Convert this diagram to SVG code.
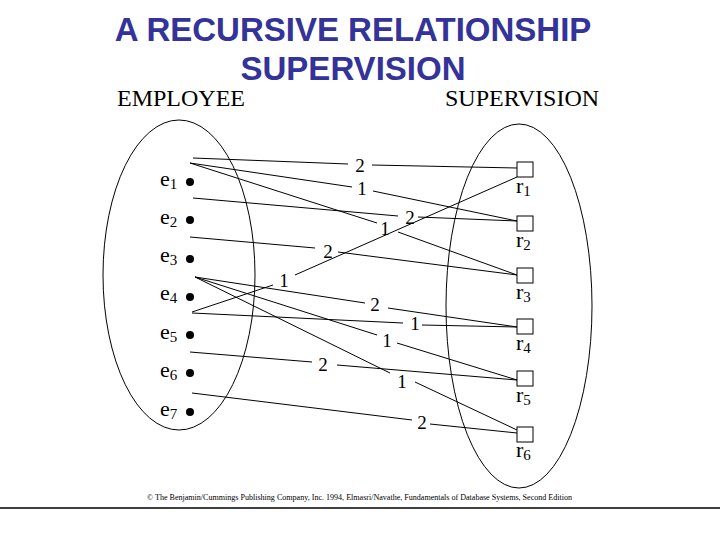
<svg xmlns="http://www.w3.org/2000/svg" width="720" height="540" viewBox="0 0 720 540">
<style>
.title{font-family:"Liberation Sans",Arial,sans-serif;font-weight:bold;font-size:33px;fill:#333399;text-anchor:middle}
.set{font-family:"Liberation Serif","Times New Roman",serif;font-size:24px;fill:#000}
.lbl{font-family:"Liberation Serif","Times New Roman",serif;font-size:22px;fill:#000}
.sub{font-size:15px}
.num{font-family:"Liberation Serif","Times New Roman",serif;font-size:19px;fill:#000;text-anchor:middle}
.copy{font-family:"Liberation Serif","Times New Roman",serif;font-size:8px;fill:#000}
.ell{fill:none;stroke:#000;stroke-width:1}
.ln{fill:none;stroke:#000;stroke-width:1}
.box{fill:#fff;stroke:#000;stroke-width:1}
</style>
<rect width="720" height="540" fill="#fff"/>
<g id="title">
<text class="title" x="353" y="41">A RECURSIVE RELATIONSHIP</text>
<text class="title" x="353" y="80">SUPERVISION</text>
</g>
<text class="set" x="117" y="106">EMPLOYEE</text>
<text class="set" x="445" y="106">SUPERVISION</text>
<ellipse id="employee-set" class="ell" cx="179" cy="275" rx="76" ry="155"/>
<ellipse id="supervision-set" class="ell" cx="519" cy="306" rx="73" ry="182"/>
<g id="connectors">
<line class="ln" x1="193" y1="158" x2="348" y2="164"/>
<line class="ln" x1="372" y1="165" x2="517" y2="168"/>
<line class="ln" x1="190" y1="163" x2="352" y2="187"/>
<line class="ln" x1="373" y1="191" x2="517" y2="221"/>
<line class="ln" x1="193" y1="198" x2="398" y2="216"/>
<line class="ln" x1="418" y1="217" x2="517" y2="221"/>
<line class="ln" x1="190" y1="163" x2="377" y2="223"/>
<line class="ln" x1="398" y1="232" x2="517" y2="275"/>
<line class="ln" x1="190" y1="237" x2="315" y2="248"/>
<line class="ln" x1="338" y1="252" x2="517" y2="275"/>
<line class="ln" x1="192" y1="312" x2="273" y2="285"/>
<line class="ln" x1="295" y1="275" x2="517" y2="177"/>
<line class="ln" x1="195" y1="277" x2="365" y2="303"/>
<line class="ln" x1="388" y1="308" x2="517" y2="327"/>
<line class="ln" x1="192" y1="313" x2="403" y2="323"/>
<line class="ln" x1="422" y1="325" x2="517" y2="327"/>
<line class="ln" x1="195" y1="277" x2="377" y2="335"/>
<line class="ln" x1="397" y1="343" x2="517" y2="380"/>
<line class="ln" x1="190" y1="352" x2="312" y2="362"/>
<line class="ln" x1="337" y1="365" x2="517" y2="380"/>
<line class="ln" x1="195" y1="277" x2="390" y2="373"/>
<line class="ln" x1="415" y1="382" x2="517" y2="430"/>
<line class="ln" x1="192" y1="393" x2="412" y2="420"/>
<line class="ln" x1="430" y1="424" x2="517" y2="433"/>
</g>
<g id="role-labels">
<text class="num" x="360" y="172">2</text>
<text class="num" x="362" y="195">1</text>
<text class="num" x="410" y="224">2</text>
<text class="num" x="385" y="235">1</text>
<text class="num" x="328" y="258">2</text>
<text class="num" x="284" y="287">1</text>
<text class="num" x="375" y="311">2</text>
<text class="num" x="415" y="330">1</text>
<text class="num" x="387" y="347">1</text>
<text class="num" x="323" y="371">2</text>
<text class="num" x="402" y="388">1</text>
<text class="num" x="422" y="429">2</text>
</g>
<g id="e1"><text class="lbl" x="160" y="186">e<tspan class="sub" dy="3">1</tspan></text><circle cx="190" cy="182" r="4"/></g>
<g id="e2"><text class="lbl" x="160" y="224">e<tspan class="sub" dy="3">2</tspan></text><circle cx="190" cy="220" r="4"/></g>
<g id="e3"><text class="lbl" x="160" y="262">e<tspan class="sub" dy="3">3</tspan></text><circle cx="190" cy="259" r="4"/></g>
<g id="e4"><text class="lbl" x="160" y="300">e<tspan class="sub" dy="3">4</tspan></text><circle cx="190" cy="297" r="4"/></g>
<g id="e5"><text class="lbl" x="160" y="339">e<tspan class="sub" dy="3">5</tspan></text><circle cx="190" cy="335" r="4"/></g>
<g id="e6"><text class="lbl" x="160" y="377">e<tspan class="sub" dy="3">6</tspan></text><circle cx="190" cy="373" r="4"/></g>
<g id="e7"><text class="lbl" x="160" y="416">e<tspan class="sub" dy="3">7</tspan></text><circle cx="190" cy="412" r="4"/></g>
<g id="r1"><rect class="box" x="517" y="162" width="16" height="15"/><text class="lbl" x="516" y="193">r<tspan class="sub" dy="3">1</tspan></text></g>
<g id="r2"><rect class="box" x="517" y="216" width="16" height="15"/><text class="lbl" x="516" y="247">r<tspan class="sub" dy="3">2</tspan></text></g>
<g id="r3"><rect class="box" x="517" y="268" width="16" height="15"/><text class="lbl" x="516" y="299">r<tspan class="sub" dy="3">3</tspan></text></g>
<g id="r4"><rect class="box" x="517" y="319" width="16" height="15"/><text class="lbl" x="516" y="350">r<tspan class="sub" dy="3">4</tspan></text></g>
<g id="r5"><rect class="box" x="517" y="371" width="16" height="15"/><text class="lbl" x="516" y="402">r<tspan class="sub" dy="3">5</tspan></text></g>
<g id="r6"><rect class="box" x="517" y="427" width="16" height="15"/><text class="lbl" x="516" y="457">r<tspan class="sub" dy="3">6</tspan></text></g>
<text class="copy" x="147" y="500" textLength="425" lengthAdjust="spacingAndGlyphs">© The Benjamin/Cummings Publishing Company, Inc. 1994, Elmasri/Navathe, Fundamentals of Database Systems, Second Edition</text>
<line x1="0" y1="508" x2="720" y2="508" stroke="#000" stroke-width="1.5"/>
</svg>
